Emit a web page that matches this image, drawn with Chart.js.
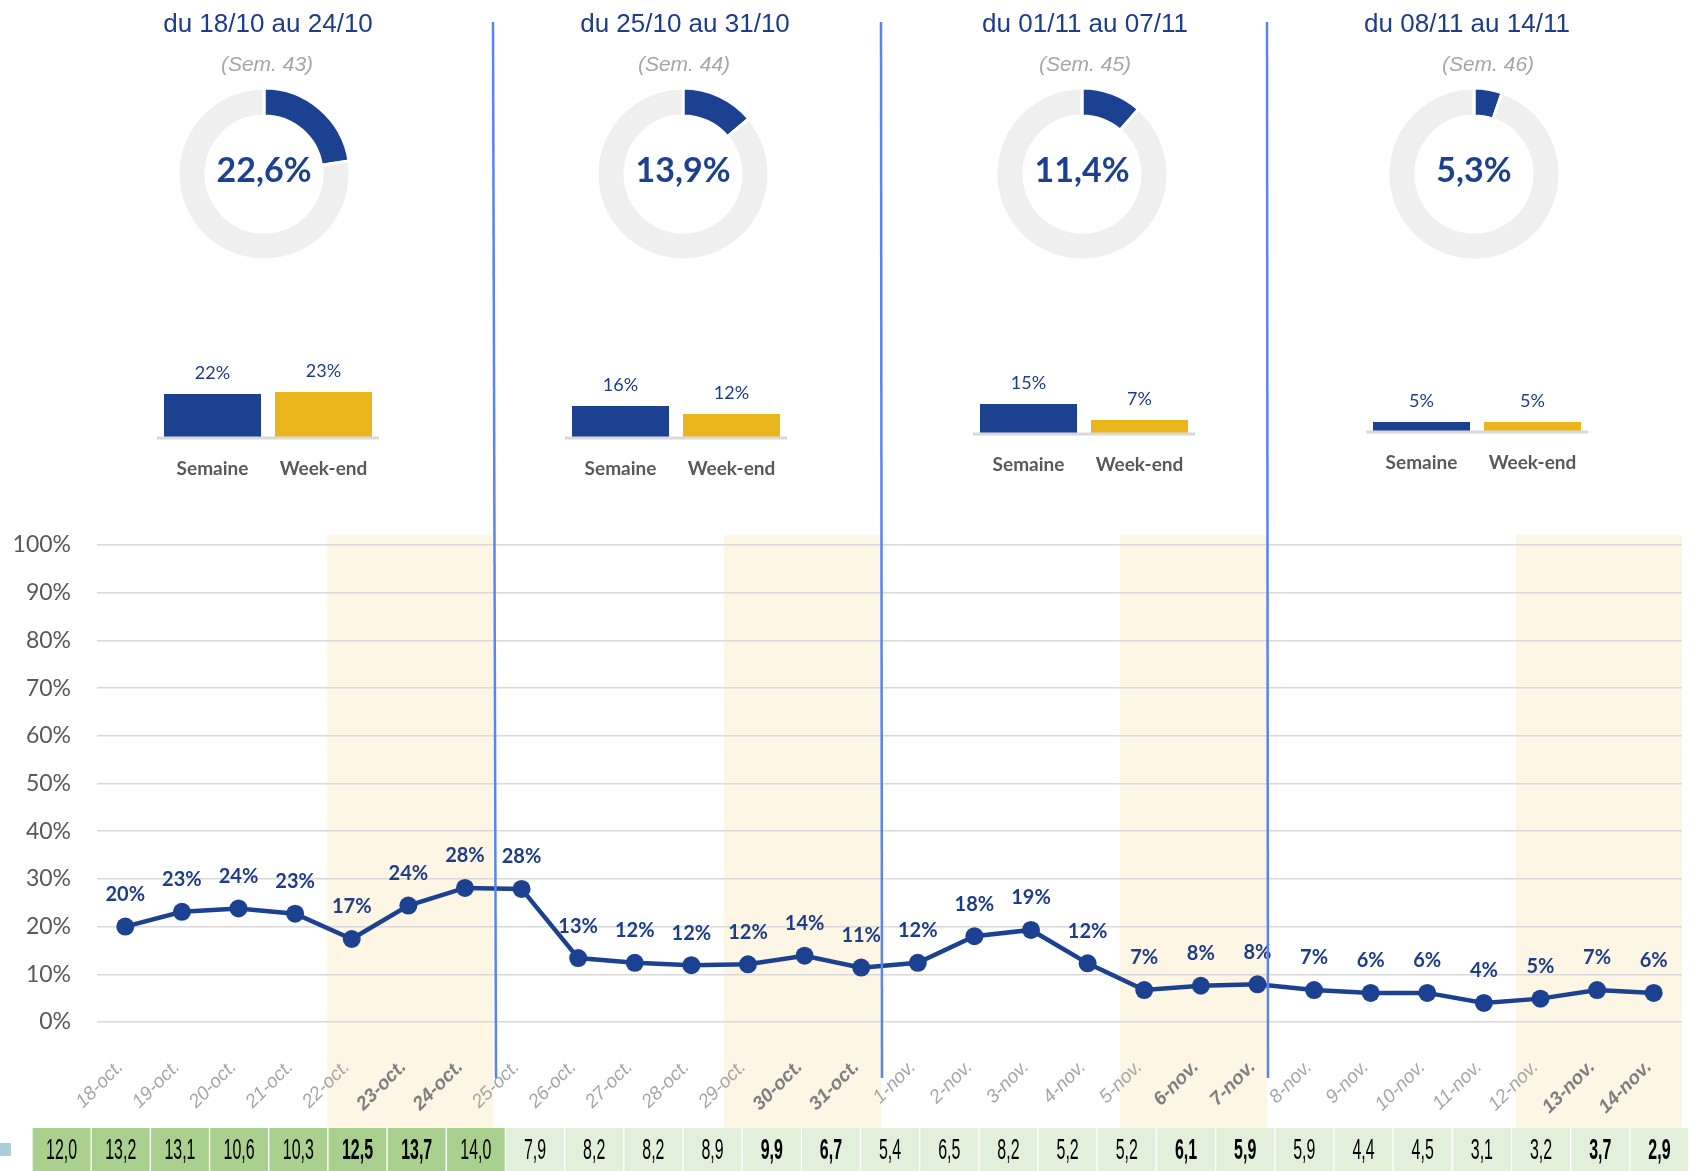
<!DOCTYPE html>
<html lang="fr">
<head>
<meta charset="utf-8">
<title>Taux hebdomadaire</title>
<script src="https://cdn.jsdelivr.net/npm/chart.js@4/dist/chart.umd.min.js"></script>
<style>
  html, body { margin: 0; padding: 0; background: #fff; }
  #page { position: relative; width: 1691px; height: 1171px; overflow: hidden; }
  .abs { position: absolute; }
  .title {
    font: 26px "Liberation Sans", Arial, sans-serif;
    color: #1f3c8c;
    white-space: nowrap;
    transform: translate(-50%, -50%);
  }
  .sem {
    font: italic 21px "Liberation Sans", Arial, sans-serif;
    color: #a6a6a6;
    white-space: nowrap;
    transform: translate(-50%, -50%);
  }
  #marker { left: 0; top: 1143px; width: 11px; height: 13px; background: #a8cfdb; }
  #sep { position: absolute; left: 0; top: 0; pointer-events: none; }
</style>
</head>
<body>
<div id="page">
  <canvas id="line" class="abs" width="1691" height="606" style="left:0;top:522px"></canvas>
  <canvas id="table" class="abs" width="1657" height="43" style="left:32px;top:1128px"></canvas>
  <div id="marker" class="abs"></div>
  <svg id="sep" width="1691" height="1171"></svg>
</div>
<script>
// --- data ---
const DAYS = [
  "18-oct.", "19-oct.", "20-oct.", "21-oct.", "22-oct.", "23-oct.", "24-oct.",
  "25-oct.", "26-oct.", "27-oct.", "28-oct.", "29-oct.", "30-oct.", "31-oct.",
  "1-nov.", "2-nov.", "3-nov.", "4-nov.", "5-nov.", "6-nov.", "7-nov.",
  "8-nov.", "9-nov.", "10-nov.", "11-nov.", "12-nov.", "13-nov.", "14-nov.",
];
const RATE = [
  20.0, 23.1, 23.8, 22.7, 17.4, 24.4, 28.1,
  27.9, 13.4, 12.4, 11.9, 12.1, 13.9, 11.4,
  12.4, 18.0, 19.3, 12.3, 6.7, 7.6, 7.9,
  6.7, 6.1, 6.1, 4.0, 4.9, 6.7, 6.1,
];
const TABLE_VALUES = [
  12.0, 13.2, 13.1, 10.6, 10.3, 12.5, 13.7,
  14.0, 7.9, 8.2, 8.2, 8.9, 9.9, 6.7,
  5.4, 6.5, 8.2, 5.2, 5.2, 6.1, 5.9,
  5.9, 4.4, 4.5, 3.1, 3.2, 3.7, 2.9,
];
const WEEKEND_DAYS = ["23-oct.", "24-oct.", "30-oct.", "31-oct.", "6-nov.", "7-nov.", "13-nov.", "14-nov."];
// shaded periods: friday to sunday
const SHADED = [["22-oct.", "24-oct."], ["29-oct.", "31-oct."], ["5-nov.", "7-nov."], ["12-nov.", "14-nov."]];

const WEEK_TITLES = ["du 18/10 au 24/10", "du 25/10 au 31/10", "du 01/11 au 07/11", "du 08/11 au 14/11"];
const WEEK_NUMS = [43, 44, 45, 46];
const WEEK_RATE = [22.6, 13.9, 11.4, 5.3];
const BAR_LABELS = ["Semaine", "Week-end"];
const WEEK_SEMAINE = [22, 16, 15, 5];
const WEEK_WEEKEND = [23, 12, 7, 5];

// --- layout ---
const TITLE_X = [268, 685, 1085, 1467];
const SEM_X = [267, 684, 1085, 1488];
const DONUT_X = [263.5, 683, 1081.5, 1474];
const DONUT_Y = 174;
const BARS_X = [268, 675.5, 1083.5, 1477];
const BARS_BASE = [438, 438, 434, 432];
const SEPARATORS = [[493, 496], [881, 882], [1267, 1268]];

const BLUE = "#1c4191";
const GOLD = "#ebb61c";
const TEXT_BLUE = "#1f3c88";

Chart.defaults.animation = false;
Chart.defaults.events = [];
Chart.defaults.plugins.legend.display = false;
Chart.defaults.plugins.tooltip.enabled = false;

const page = document.getElementById("page");

function addDiv(cls, text, x, y) {
  const d = document.createElement("div");
  d.className = "abs " + cls;
  d.textContent = text;
  d.style.left = x + "px";
  d.style.top = y + "px";
  page.appendChild(d);
}

function addCanvas(x, y, w, h) {
  const c = document.createElement("canvas");
  c.className = "abs";
  c.width = w;
  c.height = h;
  c.style.left = x + "px";
  c.style.top = y + "px";
  page.insertBefore(c, document.getElementById("sep"));
  return c;
}

const fmtComma = (v) => v.toFixed(1).replace(".", ",");

// --- donut centre text ---
const donutText = {
  id: "donutText",
  afterDraw(chart) {
    const arc = chart.getDatasetMeta(0).data[0];
    const v = chart.data.datasets[0].data[0];
    const ctx = chart.ctx;
    ctx.save();
    ctx.font = "bold 34px Lato";
    ctx.fillStyle = BLUE;
    ctx.textAlign = "center";
    ctx.textBaseline = "middle";
    ctx.fillText(fmtComma(v) + "%", arc.x, arc.y - 3);
    ctx.restore();
  },
};

// --- small bar charts ---
const barDecor = {
  id: "barDecor",
  afterDatasetsDraw(chart) {
    const ctx = chart.ctx;
    const y0 = chart.scales.y.getPixelForValue(0);
    ctx.save();
    ctx.strokeStyle = "#d9d9d9";
    ctx.lineWidth = 3;
    ctx.beginPath();
    ctx.moveTo(0, y0);
    ctx.lineTo(chart.width, y0);
    ctx.stroke();
    ctx.font = "18px Lato";
    ctx.fillStyle = TEXT_BLUE;
    ctx.textAlign = "center";
    ctx.textBaseline = "middle";
    chart.getDatasetMeta(0).data.forEach((bar, i) => {
      ctx.fillText(chart.data.datasets[0].data[i] + "%", bar.x, bar.y - 21);
    });
    ctx.restore();
  },
};

WEEK_TITLES.forEach((t, w) => {
  addDiv("title", t, TITLE_X[w], 23);
  addDiv("sem", "(Sem. " + WEEK_NUMS[w] + ")", SEM_X[w], 64);

  const dc = addCanvas(DONUT_X[w] - 100, DONUT_Y - 100, 200, 200);
  new Chart(dc, {
    type: "doughnut",
    data: {
      labels: ["taux", "reste"],
      datasets: [
        {
          data: [WEEK_RATE[w], 100 - WEEK_RATE[w]],
          backgroundColor: [BLUE, "#efefef"],
          borderColor: "#fff",
          borderWidth: 3,
        },
      ],
    },
    options: { responsive: false, radius: 86, cutout: 66.5 },
    plugins: [donutText],
  });

  const bc = addCanvas(BARS_X[w] - 111, BARS_BASE[w] - 100, 222, 148);
  new Chart(bc, {
    type: "bar",
    data: {
      labels: BAR_LABELS,
      datasets: [
        {
          data: [WEEK_SEMAINE[w], WEEK_WEEKEND[w]],
          backgroundColor: [BLUE, GOLD],
          barPercentage: 0.874,
          categoryPercentage: 1,
        },
      ],
    },
    options: {
      responsive: false,
      layout: { padding: { top: 20, left: 0, right: 0, bottom: 0 } },
      scales: {
        x: {
          grid: { display: false, drawTicks: false },
          border: { display: false },
          ticks: { font: { family: "Lato", size: 19, weight: "bold" }, color: "#595959", padding: 19 },
          afterFit: (s) => {
            s.height = 48;
            s.paddingLeft = 0;
            s.paddingRight = 0;
          },
        },
        y: { display: false, min: 0, max: 40 },
      },
    },
    plugins: [barDecor],
  });
});

// --- main line chart ---
const isWeekend = (i) => WEEKEND_DAYS.includes(DAYS[i]);

const weekendBands = {
  id: "weekendBands",
  beforeDraw(chart) {
    const x = chart.scales.x;
    const step = x.getPixelForValue(1) - x.getPixelForValue(0);
    const ctx = chart.ctx;
    const top = 13;
    ctx.save();
    ctx.fillStyle = "#fdf6e4";
    SHADED.forEach(([from, to]) => {
      const x0 = x.getPixelForValue(DAYS.indexOf(from)) - 0.43 * step;
      let x1 = x.getPixelForValue(DAYS.indexOf(to)) + 0.5 * step;
      SEPARATORS.forEach(([a]) => { if (a > x0 && a < x1) x1 = a; });
      x1 = Math.min(x1, chart.chartArea.right);
      ctx.fillRect(x0, top, x1 - x0, chart.height - top);
    });
    ctx.restore();
  },
};

const pointLabels = {
  id: "pointLabels",
  afterDatasetsDraw(chart) {
    const ctx = chart.ctx;
    ctx.save();
    ctx.font = "bold 20px Lato";
    ctx.fillStyle = TEXT_BLUE;
    ctx.textAlign = "center";
    ctx.textBaseline = "middle";
    chart.getDatasetMeta(0).data.forEach((pt, i) => {
      ctx.fillText(Math.round(RATE[i]) + "%", pt.x, pt.y - 32);
    });
    ctx.restore();
  },
};

new Chart(document.getElementById("line"), {
  type: "line",
  data: {
    labels: DAYS,
    datasets: [
      {
        data: RATE,
        borderColor: BLUE,
        backgroundColor: BLUE,
        borderWidth: 4.5,
        pointRadius: 9,
        pointBorderWidth: 0,
        pointBackgroundColor: BLUE,
        tension: 0,
      },
    ],
  },
  options: {
    responsive: false,
    layout: { padding: { top: 23, right: 5, left: 0, bottom: 0 } },
    scales: {
      x: {
        offset: true,
        grid: { display: false, drawTicks: false },
        border: { display: false },
        ticks: {
          autoSkip: false,
          minRotation: 45,
          maxRotation: 45,
          padding: 34,
          labelOffset: -5,
          color: (c) => (isWeekend(c.index) ? "#7f7f7f" : "#a6a6a6"),
          font: (c) => ({
            family: '"Liberation Sans", Arial',
            size: 19,
            style: "italic",
            weight: isWeekend(c.index) ? "bold" : "normal",
          }),
        },
        afterFit: (s) => {
          s.height = 106;
          s.paddingLeft = 0;
          s.paddingRight = 0;
        },
      },
      y: {
        min: 0,
        max: 100,
        grid: { color: "#d9d9d9", lineWidth: 1.5, drawTicks: false },
        border: { display: false },
        ticks: {
          stepSize: 10,
          padding: 26,
          color: "#595959",
          font: { family: "Lato", size: 23 },
          callback: (v) => v + "%",
        },
        afterFit: (s) => {
          s.width = 97;
          s.paddingTop = 0;
          s.paddingBottom = 0;
        },
      },
    },
  },
  plugins: [weekendBands, pointLabels],
});

// --- bottom value row ---
const cellText = {
  id: "cellText",
  afterDatasetsDraw(chart) {
    const ctx = chart.ctx;
    const yc = (chart.chartArea.top + chart.chartArea.bottom) / 2 + 1;
    ctx.save();
    ctx.fillStyle = "#000";
    ctx.textAlign = "center";
    ctx.textBaseline = "middle";
    chart.getDatasetMeta(0).data.forEach((bar, i) => {
      ctx.font = (isWeekend(i) ? "bold " : "") + '29px "Liberation Sans", Arial';
      ctx.save();
      ctx.translate(bar.x, yc);
      ctx.scale(0.55, 1);
      ctx.fillText(fmtComma(TABLE_VALUES[i]), 0, 0);
      ctx.restore();
    });
    ctx.restore();
  },
};

new Chart(document.getElementById("table"), {
  type: "bar",
  data: {
    labels: DAYS,
    datasets: [
      {
        data: TABLE_VALUES,
        backgroundColor: TABLE_VALUES.map((v) => (v >= 10 ? "#a9d08e" : "#e2efda")),
        borderColor: "#fff",
        borderWidth: { left: 1, right: 1, top: 0, bottom: 0 },
        borderSkipped: false,
        barPercentage: 1,
        categoryPercentage: 1,
      },
    ],
  },
  options: {
    responsive: false,
    layout: { padding: 0 },
    scales: {
      x: { display: false },
      // every value overflows the row: the cell fills the full height
      y: { display: false, min: 0, max: 1 },
    },
  },
  plugins: [cellText],
});

// --- week separators ---
const svg = document.getElementById("sep");
SEPARATORS.forEach(([xTop, xBottom]) => {
  const l = document.createElementNS("http://www.w3.org/2000/svg", "line");
  l.setAttribute("x1", xTop);
  l.setAttribute("y1", 22);
  l.setAttribute("x2", xBottom);
  l.setAttribute("y2", 1078);
  l.setAttribute("stroke", "#5b83f2");
  l.setAttribute("stroke-width", 2.5);
  svg.appendChild(l);
});
</script>
</body>
</html>
